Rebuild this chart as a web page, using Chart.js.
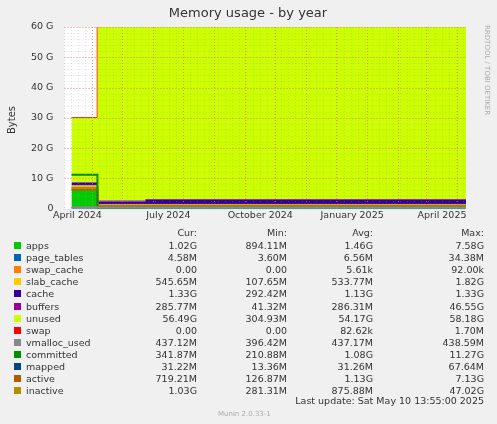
<!DOCTYPE html>
<html><head><meta charset="utf-8">
<script src="https://cdn.jsdelivr.net/npm/chart.js@4"></script>
<style>
body{margin:0;background:#f0f0f0;font-family:"DejaVu Sans",sans-serif;}
#wrap{position:relative;width:497px;height:424px;}
#c{position:absolute;left:0;top:0;}
.t{position:absolute;font-size:9.5px;color:#333;white-space:nowrap;line-height:12px;}
.r{text-align:right;}
.sq{position:absolute;width:7px;height:7px;}
</style></head><body>
<div id="wrap"><canvas id="c" width="497" height="230"></canvas><div id="leg"></div></div>
<script>
// days counted from the left edge of the plot (2024-03-04)
const days = [7, 33, 33.01, 81, 81.01, 402]
const G = 1e9
const names = ['apps','page_tables','swap_cache','slab_cache','cache','buffers','unused','swap','vmalloc_used','committed','mapped','active','inactive']
const colors = ['#00cc00','#0066b3','#ff8000','#ffcc00','#330099','#990099','#ccff00','#ff0000','#888888','#008f00','#00487d','#b35a00','#b38f00']
// values in G at each of the days
const apps = [6.6, 6.6, 0.9, 0.9, 1.0, 1.0]
const pageTables = [0.03, 0.03, 0.004, 0.004, 0.005, 0.005]
const swapCache = [0, 0, 0, 0, 0, 0]
const slabCache = [1.0, 1.0, 0.55, 0.55, 0.55, 0.55]
const cache = [1.0, 1.0, 0.9, 0.9, 1.33, 1.33]
const buffers = [0.05, 0.05, 0.3, 0.3, 0.29, 0.29]
const unused = [21.3, 21.3, 57.35, 57.35, 56.83, 56.83]
const swap = [0, 0, 0, 0, 0, 0]
const vmalloc = [0.44, 0.44, 0.44, 0.44, 0.44, 0.44]
const committed = [11.2, 11.2, 0.3, 0.3, 0.34, 0.34]
const mapped = [0.06, 0.06, 0.03, 0.03, 0.03, 0.03]
const active = [6.2, 6.2, 0.7, 0.7, 0.72, 0.72]
const inactive = [6.9, 6.9, 1.0, 1.0, 1.03, 1.03]
const series = [apps,pageTables,swapCache,slabCache,cache,buffers,unused,swap,vmalloc,committed,mapped,active,inactive]
const tickDays = [13, 104, 196, 288, 378]
const tickLabels = ['April 2024','July 2024','October 2024','January 2025','April 2025']
const monthDays = [28, 58, 89, 119, 150, 181, 211, 242, 272, 303, 334, 362, 393]
const cur = ['1.02G','4.58M','0.00','545.65M','1.33G','285.77M','56.49G','0.00','437.12M','341.87M','31.22M','719.21M','1.03G']
const mins = ['894.11M','3.60M','0.00','107.65M','292.42M','41.32M','304.93M','0.00','396.42M','210.88M','13.36M','126.87M','281.31M']
const avgs = ['1.46G','6.56M','5.61k','533.77M','1.13G','286.31M','54.17G','82.62k','437.17M','1.08G','31.26M','1.13G','875.88M']
const maxs = ['7.58G','34.38M','92.00k','1.82G','1.33G','46.55G','58.18G','1.70M','438.59M','11.27G','67.64M','7.13G','47.02G']

const datasets = series.map((s, i) => {
    let area = i < 8
    return {
        label: names[i],
        data: s.map((v, j) => ({x: days[j], y: v * G})),
        stack: area ? 'mem' : 'l' + i,
        fill: area ? (i == 0 ? 'origin' : '-1') : false,
        backgroundColor: colors[i],
        borderColor: colors[i],
        borderWidth: area ? (i == 7 ? 1.5 : 0) : 2,
        pointRadius: 0,
        tension: 0,
        order: area ? 1 : 0
    }
})

const bg = {id: 'bg', beforeDraw(ch) {
    const a = ch.chartArea, c = ch.ctx
    c.save(); c.fillStyle = '#ffffff'; c.fillRect(a.left, a.top, a.right - a.left, a.bottom - a.top); c.restore()
}}
const grid = {id: 'grid', afterDatasetsDraw(ch) {
    const a = ch.chartArea, c = ch.ctx, x = ch.scales.x, y = ch.scales.y
    c.save(); c.lineWidth = 1; c.setLineDash([1, 2])
    const vline = (px, col) => { c.strokeStyle = col; c.beginPath(); c.moveTo(px, a.top); c.lineTo(px, a.bottom); c.stroke() }
    const hline = (py, col) => { c.strokeStyle = col; c.beginPath(); c.moveTo(a.left, py); c.lineTo(a.right, py); c.stroke() }
    for (let d = 0; d <= 402; d += 7) vline(Math.round(x.getPixelForValue(d)) + 0.5, 'rgba(160,160,160,0.3)')
    for (let g = 0; g <= 60; g += 2) hline(Math.round(y.getPixelForValue(g * G)) + 0.5, 'rgba(160,160,160,0.3)')
    monthDays.forEach(d => vline(Math.round(x.getPixelForValue(d)) + 0.5, 'rgba(240,110,110,0.7)'))
    for (let g = 10; g <= 60; g += 10) hline(Math.round(y.getPixelForValue(g * G)) + 0.5, 'rgba(240,110,110,0.7)')
    c.restore()
}}
const deco = {id: 'deco', afterDraw(ch) {
    const c = ch.ctx
    c.save()
    c.fillStyle = '#333'; c.font = '13px "DejaVu Sans"'; c.textAlign = 'center'
    c.fillText('Memory usage - by year', 248, 17)
    c.font = '10px "DejaVu Sans"'
    c.translate(15, 120); c.rotate(-Math.PI / 2); c.fillText('Bytes', 0, 0)
    c.restore(); c.save()
    c.fillStyle = '#aaa'; c.font = '7px "DejaVu Sans"'
    c.translate(485, 25); c.rotate(Math.PI / 2); c.fillText('RRDTOOL / TOBI OETIKER', 0, 0)
    c.restore()
}}

new Chart(document.getElementById('c'), {
    type: 'line',
    data: {datasets},
    plugins: [bg, grid, deco],
    options: {
        responsive: false, animation: false,
        layout: {padding: {left: 28, right: 31, top: 27, bottom: 8}},
        plugins: {legend: {display: false}, tooltip: {enabled: false}},
        scales: {
            x: {type: 'linear', min: 0, max: 402,
                afterBuildTicks: ax => { ax.ticks = tickDays.map(v => ({value: v})) },
                ticks: {callback: (v, i) => tickLabels[i], maxRotation: 0, autoSkip: false, color: '#333', font: {size: 9.5, family: 'DejaVu Sans'}, padding: 1},
                grid: {display: false, drawTicks: false},
                border: {display: false}},
            y: {stacked: true, min: 0, max: 60 * G,
                ticks: {stepSize: 10 * G, callback: v => v == 0 ? '0' : (v / G) + ' G', color: '#333', font: {size: 9.5, family: 'DejaVu Sans'}, padding: 3},
                grid: {display: false},
                border: {display: false}}
        }
    }
})

// legend table
let h = ''
const head = [['Cur:', 197], ['Min:', 287], ['Avg:', 373], ['Max:', 484]]
head.forEach(p => { h += `<div class="t r" style="left:${p[1]-60}px;width:60px;top:227px">${p[0]}</div>` })
names.forEach((n, i) => {
    let y = 240 + i * 12.1
    h += `<div class="sq" style="left:14px;top:${y+2}px;background:${colors[i]}"></div>`
    h += `<div class="t" style="left:26px;top:${y}px">${n}</div>`
    ;[cur[i], mins[i], avgs[i], maxs[i]].forEach((v, k) => {
        h += `<div class="t r" style="left:${head[k][1]-80}px;width:80px;top:${y}px">${v}</div>`
    })
})
h += `<div class="t r" style="left:200px;width:284px;top:395px">Last update:  Sat May 10 13:55:00 2025</div>`
h += `<div class="t" style="left:218px;top:408px;font-size:7px;color:#aaa">Munin 2.0.33-1</div>`
document.getElementById('leg').innerHTML = h
</script></body></html>
